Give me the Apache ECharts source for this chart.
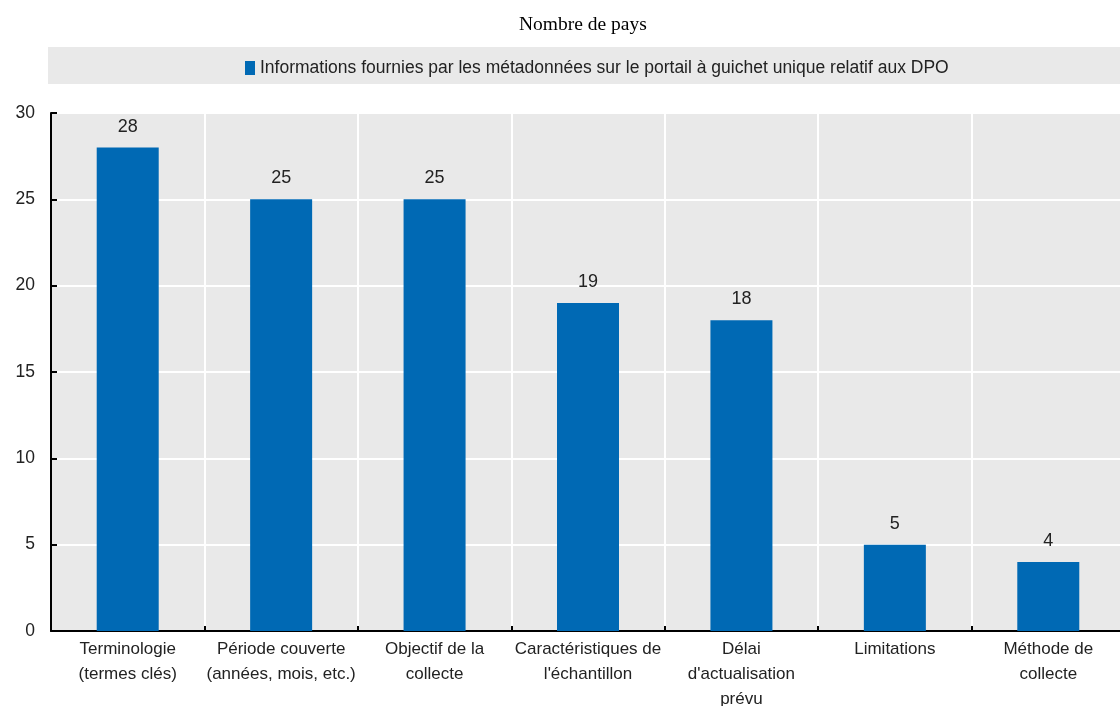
<!DOCTYPE html>
<html>
<head>
<meta charset="utf-8">
<script src="https://cdn.jsdelivr.net/npm/echarts@6/dist/echarts.min.js"></script>
<style>
  html, body { margin: 0; padding: 0; background: #ffffff; }
  #chart { width: 1120px; height: 706px; }
</style>
</head>
<body>
<div id="chart"></div>
<script>
// Metadata elements available on the single-window portal, number of countries
const categories = [
  'Terminologie\n(termes clés)',
  'Période couverte\n(années, mois, etc.)',
  'Objectif de la\ncollecte',
  'Caractéristiques de\nl\'échantillon',
  'Délai\nd\'actualisation\nprévu',
  'Limitations',
  'Méthode de\ncollecte'
];
const values = [28, 25, 25, 19, 18, 5, 4];
const seriesName = 'Informations fournies par les métadonnées sur le portail à guichet unique relatif aux DPO';
const titleText = 'Nombre de pays';

const sans = '"Liberation Sans Narrow", "Arial Narrow", "Liberation Sans", Arial, sans-serif';
const chart = echarts.init(document.getElementById('chart'));

chart.setOption({
  animation: false,
  backgroundColor: '#ffffff',
  title: {
    text: titleText,
    left: 514,
    top: 10,
    textStyle: { fontFamily: '"Liberation Serif", "Times New Roman", serif', fontSize: 19.5, fontWeight: 'normal', color: '#000' }
  },
  graphic: [{
    type: 'rect',
    left: 48, top: 47,
    shape: { width: 1072, height: 37 },
    style: { fill: '#e9e9e9' },
    silent: true,
    z: -1
  }],
  legend: {
    top: 54,
    left: 240,
    itemWidth: 10,
    itemHeight: 14,
    itemGap: 6,
    icon: 'rect',
    textStyle: { fontFamily: sans, fontSize: 17.5, color: '#222' },
    data: [seriesName]
  },
  grid: {
    left: 51, right: -5, top: 113, bottom: 75,
    outerBoundsMode: 'none',
    containLabel: false,
    show: true,
    backgroundColor: '#e9e9e9',
    borderWidth: 0
  },
  xAxis: {
    type: 'category',
    data: categories,
    axisLine: { lineStyle: { color: '#000', width: 2 } },
    axisTick: { show: true, inside: true, length: 5, lineStyle: { color: '#000', width: 2 } },
    splitLine: { show: true, lineStyle: { color: '#ffffff', width: 2 } },
    axisLabel: { fontFamily: sans, fontSize: 17, color: '#222', lineHeight: 25, margin: 6, interval: 0 }
  },
  yAxis: {
    type: 'value',
    min: 0, max: 30, interval: 5,
    axisLine: { show: true, lineStyle: { color: '#000', width: 2 } },
    axisTick: { show: true, inside: true, length: 6, lineStyle: { color: '#000', width: 2 } },
    splitLine: { show: true, lineStyle: { color: '#ffffff', width: 2 } },
    axisLabel: { fontFamily: sans, fontSize: 17.5, color: '#222', margin: 16 }
  },
  series: [{
    name: seriesName,
    type: 'bar',
    data: values,
    barWidth: 62,
    itemStyle: { color: '#0069b4' },
    label: {
      show: true,
      position: 'top',
      distance: 12,
      fontFamily: sans,
      fontSize: 18,
      color: '#222'
    }
  }]
});
</script>
</body>
</html>
